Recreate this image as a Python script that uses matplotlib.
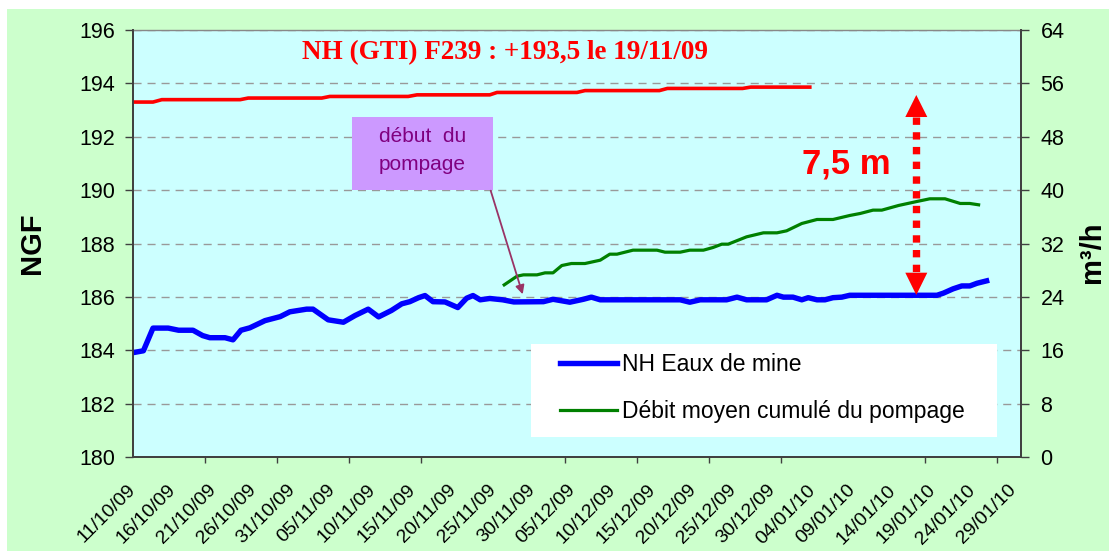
import matplotlib
matplotlib.use('Agg')
import matplotlib.pyplot as plt
from matplotlib.patches import Rectangle, Polygon
from matplotlib import font_manager as fm

# ---------------- data ----------------
# x values: days since 11/10/2009
tick_labels = ['11/10/09', '16/10/09', '21/10/09', '26/10/09', '31/10/09', '05/11/09',
               '10/11/09', '15/11/09', '20/11/09', '25/11/09', '30/11/09', '05/12/09',
               '10/12/09', '15/12/09', '20/12/09', '25/12/09', '30/12/09', '04/01/10',
               '09/01/10', '14/01/10', '19/01/10', '24/01/10', '29/01/10']
label_days = list(range(0, 111, 5))
tick_mark_days = list(range(0, 109, 9))

blue_days = [0, 1.3, 2.5, 4.4, 5.7, 7.5, 8.7, 9.6, 11.5, 12.5, 13.5, 14.6, 16.5, 18.4,
             19.6, 21.7, 22.5, 24.4, 26.3, 27.75, 29.4, 30.7, 32.3, 33.6, 34.6, 35.7,
             36.5, 37.5, 39, 40.6, 41.7, 42.5, 43.4, 44.6, 46.2, 47.6, 51.3, 52.5, 54.6,
             56.3, 57.3, 58.4, 68.4, 69.6, 70.9, 74.2, 75.5, 76.7, 79.2, 80.5, 81.3,
             82.5, 83.6, 84.4, 85.5, 86.5, 87.5, 88.6, 89.6, 100.5, 101.3, 102.5, 103.6,
             104.6, 105.5, 106.7]
blue_ngf = [183.91, 183.98, 184.83, 184.83, 184.75, 184.75, 184.55, 184.47, 184.47,
            184.39, 184.75, 184.84, 185.11, 185.26, 185.44, 185.54, 185.54, 185.14,
            185.05, 185.30, 185.54, 185.25, 185.49, 185.74, 185.82, 185.97, 186.05,
            185.82, 185.81, 185.60, 185.95, 186.05, 185.89, 185.94, 185.89, 185.81,
            185.82, 185.91, 185.80, 185.91, 185.99, 185.89, 185.89, 185.80, 185.89,
            185.89, 185.99, 185.89, 185.89, 186.06, 185.99, 185.99, 185.89, 185.97,
            185.89, 185.89, 185.97, 185.99, 186.06, 186.06, 186.14, 186.30, 186.41,
            186.41, 186.51, 186.60]

green_days = [46.4, 48.0, 48.8, 50.5, 51.5, 52.5, 53.6, 54.8, 56.5, 58.4, 59.6, 60.5,
              62.5, 65.5, 66.5, 68.4, 69.6, 71.3, 72.5, 73.6, 74.4, 76.7, 78.8, 80.5,
              81.7, 83.6, 85.5, 87.5, 89.6, 90.9, 92.5, 93.6, 95.7, 98.0, 99.6, 101.5,
              103.4, 104.6, 105.7]
green_flow = [25.8, 27.1, 27.3, 27.3, 27.6, 27.6, 28.7, 29.0, 29.0, 29.5, 30.4, 30.4,
              31.0, 31.0, 30.7, 30.7, 31.0, 31.0, 31.4, 31.9, 31.9, 33.0, 33.6, 33.6,
              33.9, 35.0, 35.6, 35.6, 36.2, 36.5, 37.0, 37.0, 37.7, 38.3, 38.7, 38.7,
              38.0, 38.0, 37.8]

red_days = [0, 2.5, 3.6, 13.4, 14.4, 23.6, 24.6, 34.4, 35.5, 44.6, 45.5, 55.5, 56.5,
            65.8, 66.8, 76.2, 77.2, 84.6]
red_ngf = [193.30, 193.30, 193.39, 193.39, 193.45, 193.45, 193.51, 193.51, 193.57,
           193.57, 193.66, 193.66, 193.73, 193.73, 193.81, 193.81, 193.86, 193.86]

series_names = ['NH Eaux de mine', 'Débit moyen cumulé du pompage']
title_text = 'NH (GTI) F239 : +193,5 le 19/11/09'
drop_text = '7,5 m'
box_text = 'début  du\npompage'

# ---------------- fonts ----------------
def has_font(name):
    try:
        fm.findfont(fm.FontProperties(family=name), fallback_to_default=False)
        return True
    except Exception:
        return False

if has_font('Liberation Sans Narrow'):
    tick_font, ytick_size, xtick_size = 'Liberation Sans Narrow', 18, 17
else:
    tick_font, ytick_size, xtick_size = 'Liberation Sans', 15.5, 14
plt.rcParams['font.family'] = [tick_font, 'DejaVu Sans']
SANS = ['Liberation Sans', 'DejaVu Sans']

# ---------------- figure ----------------
W, H = 1109, 554
fig = plt.figure(figsize=(W / 100, H / 100), dpi=100)
fig.patch.set_facecolor('white')
fig.add_artist(Rectangle((7 / W, 3 / H), 1 - 7 / W, 542 / H, transform=fig.transFigure,
                         facecolor='#CCFFCC', edgecolor='none', zorder=-5))

ax = fig.add_axes([133 / W, (H - 457) / H, 888 / W, 427 / H])
ax.set_facecolor('#CCFFFF')
ax.set_xlim(0, 111)
ax.set_ylim(180, 196)
ax.set_yticks(range(180, 197, 2))
ax.set_axisbelow(True)
ax.grid(axis='y', color='#999999', lw=1, linestyle=(0, (5.8, 4.3)))

ax2 = ax.twinx()
ax2.set_ylim(0, 64)
ax2.set_yticks(range(0, 65, 8))

for a in (ax, ax2):
    for s in a.spines.values():
        s.set_color('#404040')
        s.set_linewidth(1.3)
ax.spines['top'].set_color('#888888')
ax.spines['top'].set_linewidth(1.0)
ax2.spines['top'].set_visible(False)

ax.set_xticks(label_days)
ax.set_xticklabels(tick_labels, rotation=45, ha='right', va='center',
                   rotation_mode='anchor', fontsize=xtick_size)
ax.set_xticks(tick_mark_days, minor=True)
ax.tick_params(axis='x', which='major', length=0, pad=22)
ax.tick_params(axis='x', which='minor', length=4.5, width=1, color='#404040', direction='out')
ax.tick_params(axis='y', length=6, width=1, color='#404040', direction='out', pad=7,
               labelsize=ytick_size)
ax2.tick_params(axis='y', length=6, width=1, color='#404040', direction='out', pad=8,
                labelsize=ytick_size)

# ---------------- lines ----------------
red_line, = ax.plot(red_days, red_ngf, color='#FF0000', lw=2.6, zorder=3)
blue_line, = ax.plot(blue_days, blue_ngf, color='#0000FF', lw=3.9, zorder=3,
                     solid_joinstyle='round')
green_line, = ax2.plot(green_days, green_flow, color='#008000', lw=2.3, zorder=3)

# ---------------- legend ----------------
ax2.add_patch(Rectangle(((531 - 133) / 888, (457 - 437) / 427), (997 - 531) / 888,
                        (437 - 344) / 427, transform=ax2.transAxes,
                        facecolor='white', edgecolor='none', zorder=4))
leg = ax2.legend([blue_line, green_line], series_names, loc='upper left',
                 bbox_to_anchor=((560 - 133) / 888, (457 - 353) / 427),
                 frameon=False, borderpad=0, borderaxespad=0, labelspacing=1.05,
                 handlelength=2.5, handletextpad=0.2,
                 prop=dict(family=SANS, size=16.5))
leg.set_zorder(5)

# ---------------- annotations ----------------
ax2.add_patch(Rectangle(((352.3 - 133) / 888, (457 - 190) / 427), (492.7 - 352.3) / 888,
                        (190 - 116.7) / 427, transform=ax2.transAxes,
                        facecolor='#CC99FF', edgecolor='none', zorder=4))
ax2.text((422.5 - 133) / 888, (457 - 151) / 427, box_text, transform=ax2.transAxes,
         ha='center', va='center', color='#800080', fontsize=15, family=SANS,
         linespacing=1.6, zorder=5)
ax2.annotate('', xy=((522.7 - 133) / 888, (457 - 294.3) / 427),
             xytext=((490.7 - 133) / 888, (457 - 190.7) / 427),
             xycoords='axes fraction', textcoords='axes fraction',
             arrowprops=dict(arrowstyle='-|>', color='#993366', lw=1.3,
                             mutation_scale=13, shrinkA=0, shrinkB=0), zorder=6)

ax2.text(0.4185, (457 - 59) / 427, title_text, transform=ax2.transAxes, ha='center',
         va='baseline', color='#FF0000', fontsize=19.5, fontweight='bold',
         family=['Liberation Serif', 'DejaVu Serif'], zorder=5)
ax2.text((846 - 133) / 888, (457 - 173) / 427, drop_text, transform=ax2.transAxes,
         ha='center', va='baseline', color='#FF0000', fontsize=25, fontweight='bold',
         family=SANS, zorder=5)

# dotted double arrow
axx = (916.3 - 133) / 888
hw = 11 / 888
y_top_tip, y_top_base = (457 - 95) / 427, (457 - 117) / 427
y_bot_base, y_bot_tip = (457 - 272.7) / 427, (457 - 295) / 427
ax2.plot([axx, axx], [y_top_base, y_bot_base], transform=ax2.transAxes, color='#FF0000',
         lw=5.3, linestyle=(0, (1, 1)), solid_capstyle='butt', dash_capstyle='butt',
         zorder=5)
ax2.add_patch(Polygon([[axx - hw, y_top_base], [axx + hw, y_top_base], [axx, y_top_tip]],
                      closed=True, transform=ax2.transAxes, facecolor='#FF0000',
                      edgecolor='none', zorder=5))
ax2.add_patch(Polygon([[axx - hw, y_bot_base], [axx + hw, y_bot_base], [axx, y_bot_tip]],
                      closed=True, transform=ax2.transAxes, facecolor='#FF0000',
                      edgecolor='none', zorder=5))

# axis titles
fig.text(32 / W, (H - 243) / H, 'NGF', rotation=90, ha='center', va='center',
         fontsize=21, fontweight='bold', family=SANS)
fig.text(1092 / W, (H - 252) / H, 'm³/h', rotation=90, ha='center', va='center',
         fontsize=21, fontweight='bold', family=SANS)

fig.savefig('out.png', dpi=100, facecolor=fig.get_facecolor())
